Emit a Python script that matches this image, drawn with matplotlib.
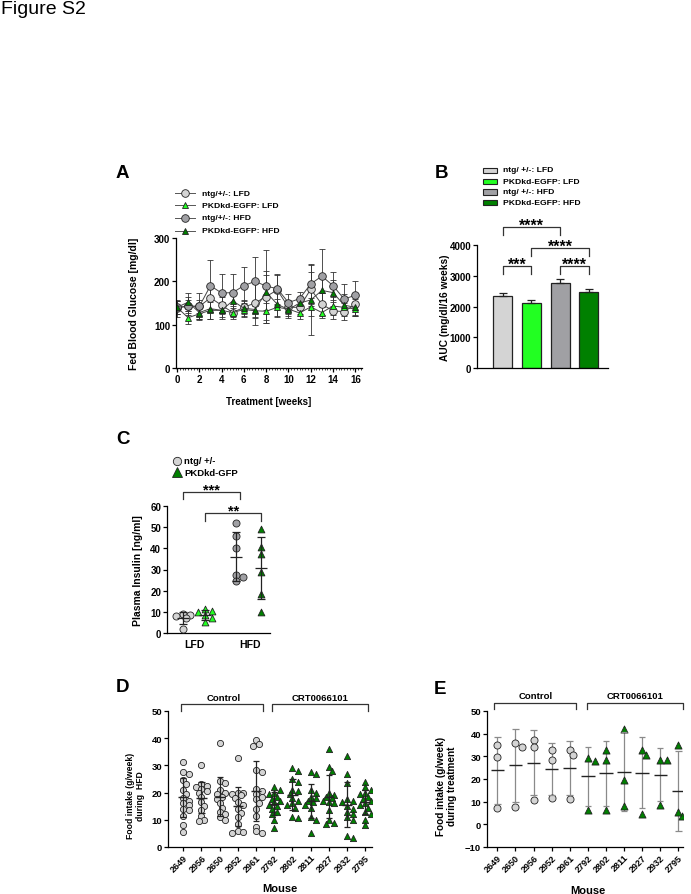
import numpy as np
import matplotlib
matplotlib.use("Agg")
import matplotlib.pyplot as plt
from matplotlib.lines import Line2D
from matplotlib.patches import Rectangle

plt.rcParams['font.family'] = ['Liberation Sans', 'DejaVu Sans']
plt.rcParams['font.weight'] = 'bold'
plt.rcParams['axes.labelweight'] = 'bold'

# ---- data -------------------------------------------------------------
# panel A: fed blood glucose, mean and SD per week
weeks = list(range(17))
ntg_lfd = [138, 143, 142, 162, 145, 128, 140, 150, 165, 180, 140, 140, 182, 147, 132, 130, 147]
ntg_lfd_sd = [20, 15, 15, 25, 20, 10, 15, 50, 60, 35, 15, 15, 40, 25, 20, 20, 25]
pkd_lfd = [140, 116, 125, 133, 133, 128, 135, 132, 131, 140, 136, 127, 141, 128, 143, 140, 136]
pkd_lfd_sd = [15, 15, 15, 20, 15, 15, 15, 15, 20, 20, 20, 15, 20, 12, 20, 15, 15]
ntg_hfd = [140, 143, 142, 190, 173, 174, 190, 200, 189, 183, 151, 160, 194, 212, 190, 159, 168]
ntg_hfd_sd = [15, 20, 30, 60, 44, 42, 43, 56, 84, 35, 20, 15, 47, 62, 32, 35, 33]
pkd_hfd = [140, 152, 128, 137, 133, 155, 138, 135, 175, 147, 135, 150, 157, 179, 174, 145, 140]
pkd_hfd_sd = [15, 20, 15, 25, 20, 20, 20, 20, 40, 30, 15, 15, 80, 30, 30, 25, 20]

# panel B: AUC
auc_groups = ['ntg/ +/-: LFD', 'PKDkd-EGFP: LFD', 'ntg/ +/-: HFD', 'PKDkd-EGFP: HFD']
auc_mean = [2350, 2120, 2780, 2460]
auc_sem = [80, 80, 130, 100]

# panel C: plasma insulin
ins_ntg_lfd = [9.0, 8.6, 8.0, 7.2, 2.0]
ins_pkd_lfd = [11.5, 10.3, 10.0, 8.3, 7.0, 5.2]
ins_ntg_hfd = [52.0, 46.0, 40.0, 27.5, 26.5, 24.5]
ins_pkd_hfd = [49.0, 40.4, 37.3, 28.7, 18.5, 9.9]

# panel D: weekly food intake during HFD
d_mice = ['2649', '2956', '2650', '2952', '2961', '2792', '2802', '2811', '2927', '2932', '2795']
d_intake = [
    [31.3, 27.5, 26.8, 24.5, 23, 20.8, 19.5, 18, 17, 16, 15.3, 14, 13.5, 11.3, 8.2, 5.5],
    [30, 23, 22.5, 22, 21.5, 20.5, 20, 18.5, 16.5, 15, 13.5, 11.5, 10, 9.5],
    [38.3, 24.2, 23.5, 21, 20, 19.5, 18.5, 17.5, 16, 14.5, 13, 12, 11, 10],
    [32.7, 20, 19.8, 19.5, 19, 18, 16.5, 15.5, 14, 12.5, 11, 8.5, 5.8, 5.5, 5.3],
    [39.5, 38, 37, 28.2, 27.5, 21.5, 20.5, 19.5, 18.5, 17.5, 16, 14, 11.5, 7.5, 5.7, 5.2],
    [22, 21, 20, 19.5, 18.5, 17.5, 17, 16.5, 15.5, 15, 14, 13, 12, 10, 7],
    [29, 28, 25, 24, 21, 20.5, 19.5, 18, 17, 16, 15.5, 14.5, 11, 10.5],
    [27.5, 27, 21, 20, 18.5, 18, 17, 16.5, 15.5, 14.5, 11, 10, 5],
    [36, 29.5, 28, 20, 19, 18.5, 18, 17, 16.5, 16, 13.5, 10, 9, 8.5],
    [33.5, 27, 23.5, 17.5, 17, 16.5, 15, 14, 13, 12, 11, 10, 4.2, 3.2],
    [24, 22, 21, 20, 19.5, 18.5, 17.5, 17, 16, 15.5, 14.5, 13, 12, 10, 8],
]

# panel E: food intake during treatment
e_mice = ['2649', '2650', '2956', '2952', '2961', '2792', '2802', '2811', '2927', '2932', '2795']
e_intake = [
    [35.0, 29.5, 7.2],
    [36.0, 34.3, 7.6],
    [37.2, 33.9, 10.6],
    [33.0, 28.6, 11.6],
    [33.0, 30.8, 11.3],
    [29.2, 28.1, 6.2],
    [32.7, 28.6, 6.2],
    [42.0, 19.7, 7.9],
    [33.0, 30.8, 4.7],
    [28.6, 28.6, 8.7],
    [35.0, 3.5, 5.4],
]
n_control = 5

# ---- colours ------------------------------------------------------------
LIGHT = '#d4d4d4'
GREY = '#a0a0a4'
LIME = '#22ff22'
DKGREEN = '#008000'

W, H = 691, 895
fig = plt.figure(figsize=(W / 100, H / 100), dpi=100)


def fx(x):
    return x / W


def fy(y):
    return 1 - y / H


def add_ax(l, t, r, b, tsize=7):
    ax = fig.add_axes([l / W, 1 - b / H, (r - l) / W, (b - t) / H])
    ax.spines['top'].set_visible(False)
    ax.spines['right'].set_visible(False)
    for s in ('left', 'bottom'):
        ax.spines[s].set_linewidth(0.9)
    ax.tick_params(width=0.9, length=3, labelsize=tsize, pad=1.2)
    return ax


def ylab(ax, text, xr, l, r, size=7.5, yc=0.5):
    ax.set_ylabel(text, fontsize=size, fontweight='bold', linespacing=1.1)
    ax.yaxis.set_label_coords((xr - l) / (r - l), yc)


def swarm(vals, xu, yu, d, kmax=2):
    # small beeswarm; xu/yu = pixels per data unit, d = marker spacing in px
    placed = []
    offs = np.zeros(len(vals))
    ks = [0]
    for k in range(1, kmax + 1):
        ks += [k, -k]
    for i in np.argsort(vals)[::-1]:
        y = vals[i] * yu
        best, best_d = 0.0, -1
        for k in ks:
            x = k * d * 0.5
            md = min([np.hypot(x - px, y - py) for px, py in placed] or [1e9])
            if md >= d * 0.75:
                best = x
                break
            if md > best_d:
                best, best_d = x, md
        placed.append((best, y))
        offs[i] = best / xu
    return offs


def bracket(ax, x0, x1, y, drop, text=None, tsize=11.5, up_px=6.5):
    ax.plot([x0, x0, x1, x1], [y - drop, y, y, y - drop], color='#333333', lw=0.9,
            clip_on=False)
    if text:
        # put the visual centre of the stars up_px pixels above the bracket
        em = tsize / 0.72
        off_pt = (up_px - 0.58 * em) * 0.72
        ax.annotate(text, xy=((x0 + x1) / 2, y), xytext=(0, off_pt),
                    textcoords='offset points', ha='center', va='baseline',
                    fontsize=tsize, fontweight='bold', annotation_clip=False)


fig.text(0.002, fy(9), 'Figure S2', fontsize=14, fontweight='normal', va='center')

# ---- panel A ------------------------------------------------------------
l, t, r, b = 176, 239, 362, 369
axA = add_ax(l, t, r, b)
series = [
    (ntg_lfd, ntg_lfd_sd, 'o', LIGHT, 'ntg/+/-: LFD'),
    (pkd_lfd, pkd_lfd_sd, '^', LIME, 'PKDkd-EGFP: LFD'),
    (ntg_hfd, ntg_hfd_sd, 'o', GREY, 'ntg/+/-: HFD'),
    (pkd_hfd, pkd_hfd_sd, '^', DKGREEN, 'PKDkd-EGFP: HFD'),
]
for vals, sd, mk, col, lab in series:
    axA.errorbar(weeks, vals, yerr=sd, fmt='-', marker=mk, color='#444444', lw=0.7,
                 mfc=col, mec='#222222', mew=0.6, ms=5.5 if mk == 'o' else 5,
                 ecolor='#333333', elinewidth=0.6, capsize=2.5, capthick=0.6)
axA.set_xlim(-0.09, 16.6)
axA.set_ylim(0, 300)
axA.set_xticks(range(0, 17, 2))
axA.set_xticks(np.arange(0, 16.6, 0.25), minor=True)
axA.tick_params(axis='x', which='minor', length=1.5, width=0.5)
axA.set_yticks([0, 100, 200, 300])
ylab(axA, 'Fed Blood Glucose [mg/dl]', 139, l, r)
axA.set_xlabel('Treatment [weeks]', fontsize=7)
axA.xaxis.set_label_coords(0.5, (b - 397) / (b - t))
fig.text(fx(122), fy(173), 'A', fontsize=13.5, fontweight='bold', ha='center', va='center')

for (vals, sd, mk, col, lab), yy in zip(series, [194, 206, 219, 232]):
    fig.add_artist(Line2D([fx(175), fx(195)], [fy(yy)] * 2, color='#555555', lw=0.7,
                          transform=fig.transFigure))
    fig.add_artist(Line2D([fx(185)], [fy(yy)], marker=mk, ms=5.5 if mk == 'o' else 5,
                          mfc=col, mec='#222222', mew=0.6, transform=fig.transFigure))
    fig.text(fx(202), fy(yy), lab, fontsize=6.1, fontweight='bold', va='center')

# ---- panel B ------------------------------------------------------------
l, t, r, b = 477, 246, 608, 369
axB = add_ax(l, t, r, b)
bcols = [LIGHT, LIME, GREY, DKGREEN]
xb = np.arange(len(auc_mean))
axB.bar(xb, auc_mean, width=0.66, color=bcols, edgecolor='#222222', linewidth=0.9)
axB.errorbar(xb, auc_mean, yerr=[np.zeros(len(auc_sem)), auc_sem], fmt='none',
             ecolor='#222222', elinewidth=0.9, capsize=3, capthick=0.9)
axB.set_xlim(-0.89, 3.66)
axB.set_ylim(0, 4000)
axB.set_yticks([0, 1000, 2000, 3000, 4000])
axB.set_xticks([])
ylab(axB, 'AUC (mg/dl/16 weeks)', 450, l, r, size=7.3)
bracket(axB, 0, 2, 4595, 260, '****')
bracket(axB, 1, 3, 3890, 260, '****')
bracket(axB, 0, 1, 3307, 260, '***')
bracket(axB, 2, 3, 3307, 260, '****')
fig.text(fx(441), fy(174), 'B', fontsize=13.5, fontweight='bold', ha='center', va='center')
for lab, col, yy in zip(auc_groups, bcols, [171, 182, 193, 203.5]):
    fig.add_artist(Rectangle((fx(483), fy(yy + 2.5)), 14 / W, 5 / H, facecolor=col,
                             edgecolor='#222222', lw=0.8, transform=fig.transFigure))
    fig.text(fx(503), fy(yy), lab, fontsize=6.1, fontweight='bold', va='center')

# ---- panel C ------------------------------------------------------------
l, t, r, b = 167, 507, 270, 634
axC = add_ax(l, t, r, b)
c_groups = [(ins_ntg_lfd, 0.8, 'o', LIGHT), (ins_pkd_lfd, 1.2, '^', LIME),
            (ins_ntg_hfd, 1.75, 'o', GREY), (ins_pkd_hfd, 2.2, '^', DKGREEN)]
for vals, xc, mk, col in c_groups:
    v = np.array(vals)
    off = swarm(v, 56, 2.12, 7)
    axC.scatter(xc + off, v, s=26 if mk == 'o' else 24, marker=mk, facecolor=col,
                edgecolor='#222222', linewidth=0.6, zorder=3)
    m, s = v.mean(), v.std(ddof=1)
    axC.hlines(m, xc - 0.11, xc + 0.11, color='#222222', lw=0.9, zorder=4)
    axC.vlines(xc, m - s, m + s, color='#222222', lw=0.9, zorder=4)
    axC.hlines([m - s, m + s], xc - 0.07, xc + 0.07, color='#222222', lw=0.9, zorder=4)
axC.set_xlim(0.518, 2.357)
axC.set_ylim(0, 60)
axC.set_yticks(range(0, 61, 10))
axC.set_xticks([1, 2])
axC.set_xticklabels(['LFD', 'HFD'], fontsize=7.5)
axC.tick_params(axis='x', length=0, pad=4)
ylab(axC, 'Plasma Insulin [ng/ml]', 143, l, r)
bracket(axC, 0.8, 1.82, 66.6, 3.5, '***', tsize=10.5, up_px=7)
bracket(axC, 1.2, 2.2, 56.5, 3.5, '**', tsize=10.5, up_px=7)
fig.text(fx(123), fy(440), 'C', fontsize=13.5, fontweight='bold', ha='center', va='center')
fig.add_artist(Line2D([fx(176.5)], [fy(462)], marker='o', ms=6, mfc=LIGHT,
                      mec='#222222', mew=0.6, transform=fig.transFigure))
fig.text(fx(184), fy(462), 'ntg/ +/-', fontsize=6.8, fontweight='bold', va='center')
fig.add_artist(Line2D([fx(176.5)], [fy(473)], marker='^', ms=6.5, mfc=DKGREEN,
                      mec='#222222', mew=0.6, transform=fig.transFigure))
fig.text(fx(184), fy(473), 'PKDkd-GFP', fontsize=6.8, fontweight='bold', va='center')


# ---- panels D and E -----------------------------------------------------
def intake_panel(ax, mice, data, xu, yu, d, ms, err_col, mean_hw, cap_hw):
    for i, vals in enumerate(data):
        v = np.array(vals)
        ctrl = i < n_control
        off = swarm(v, xu, yu, d)
        ax.scatter(i + off, v, s=ms, marker='o' if ctrl else '^',
                   facecolor=LIGHT if ctrl else DKGREEN, edgecolor='#222222',
                   linewidth=0.6, zorder=3)
        m, s = v.mean(), v.std(ddof=1)
        ax.vlines(i, m - s, m + s, color=err_col, lw=0.9, zorder=2 if err_col != '#222222' else 4)
        ax.hlines([m - s, m + s], i - cap_hw, i + cap_hw, color=err_col, lw=0.9, zorder=4)
        ax.hlines(m, i - mean_hw, i + mean_hw, color='#222222', lw=1.0, zorder=4)
    ax.set_xticks(range(len(mice)))
    ax.set_xticklabels(mice, rotation=45, ha='right', rotation_mode='anchor', fontsize=6.5)
    ax.tick_params(axis='x', pad=1)


l, t, r, b = 168, 712, 372, 848
axD = add_ax(l, t, r, b, tsize=6.8)
intake_panel(axD, d_mice, d_intake, 18.17, 2.73, 5.5, 20, '#222222', 0.28, 0.17)
axD.set_xlim(-0.84, 10.37)
axD.set_ylim(0, 50)
axD.set_yticks(range(0, 51, 10))
ylab(axD, 'Food intake (g/week)\nduring  HFD', 145, l, r, size=6.2, yc=(b - 796) / (b - t))
axD.set_xlabel('Mouse', fontsize=8)
axD.xaxis.set_label_coords(0.55, (b - 884) / (b - t))
bracket(axD, -0.13, 4.38, 52.4, 2.4)
bracket(axD, 4.9, 10.13, 52.4, 2.4)
axD.text(2.2, 55.0, 'Control', fontsize=6.8, ha='center', va='center')
axD.text(7.5, 55.0, 'CRT0066101', fontsize=6.8, ha='center', va='center')
fig.text(fx(123), fy(688), 'D', fontsize=13.5, fontweight='bold', ha='center', va='center')

l, t, r, b = 487, 712, 683, 848
axE = add_ax(l, t, r, b, tsize=6.8)
intake_panel(axE, e_mice, e_intake, 18.07, 2.257, 7, 26, '#8a8a8a', 0.37, 0.18)
axE.set_xlim(-0.57, 10.26)
axE.set_ylim(-10, 50)
axE.set_yticks(range(-10, 51, 10))
ylab(axE, 'Food intake (g/week)\nduring treatment', 457, l, r, size=7.2, yc=(b - 786) / (b - t))
axE.set_xlabel('Mouse', fontsize=8)
axE.xaxis.set_label_coords(0.515, (b - 886) / (b - t))
bracket(axE, -0.18, 4.35, 53.5, 2.8)
bracket(axE, 4.94, 10.24, 53.5, 2.8)
axE.text(2.1, 57.0, 'Control', fontsize=6.8, ha='center', va='center')
axE.text(7.6, 57.0, 'CRT0066101', fontsize=6.8, ha='center', va='center')
fig.text(fx(440), fy(689), 'E', fontsize=13.5, fontweight='bold', ha='center', va='center')

fig.savefig('out.png', dpi=100)
